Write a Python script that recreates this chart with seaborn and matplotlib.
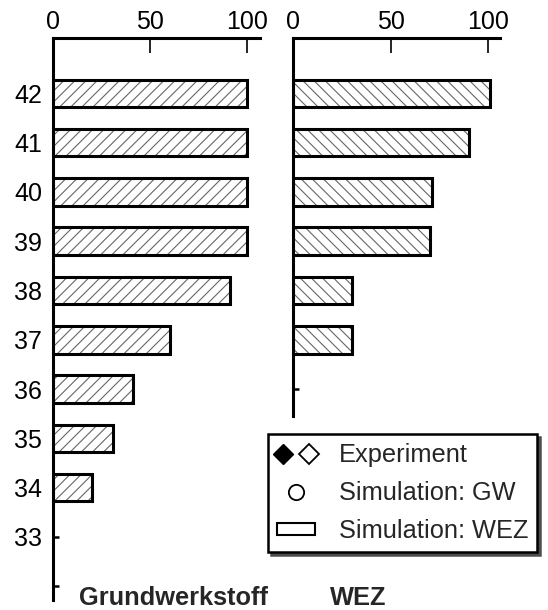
import numpy as np
import pandas as pd
import matplotlib
matplotlib.use('Agg')
import matplotlib.pyplot as plt
import seaborn as sns
from matplotlib.lines import Line2D
from matplotlib.patches import Rectangle
from matplotlib.legend_handler import HandlerTuple

# Daten: Anteil (%) je Temperatur / Kategorie
temp_gw = [34, 35, 36, 37, 38, 39, 40, 41, 42]
werte_gw = [20, 31, 41, 60, 91, 100, 100, 100, 100]
temp_wez = [37, 38, 39, 40, 41, 42]
werte_wez = [30, 30, 70, 71, 90, 101]
ytick_gw = [32, 33, 34, 35, 36, 37, 38, 39, 40, 41, 42]
ytick_wez = [36, 37, 38, 39, 40, 41, 42]
xticks = [0, 50, 100]

sns.set_style('white')
plt.rcParams['font.family'] = ['Liberation Sans', 'DejaVu Sans']
plt.rcParams['hatch.linewidth'] = 0.8

fig = plt.figure(figsize=(5.48, 6.10), dpi=100)
ax1 = fig.add_axes([0.0973, 0.0164, 0.3772, 0.9218])
ax2 = fig.add_axes([0.5352, 0.0164, 0.3772, 0.9218])


def zeichne_balken(ax, temps, werte, hatch):
    df = pd.DataFrame({'T': temps, 'Wert': werte})
    # Schraffur (grau) ohne Rand
    sns.barplot(data=df, x='Wert', y='T', orient='h', native_scale=True, width=0.56,
                color='white', edgecolor='0.4', linewidth=0, hatch=hatch,
                errorbar=None, ax=ax)
    # schwarzer Rahmen darüber
    sns.barplot(data=df, x='Wert', y='T', orient='h', native_scale=True, width=0.56,
                fill=False, color='black', edgecolor='black', linewidth=2.2,
                errorbar=None, ax=ax)


zeichne_balken(ax1, temp_gw, werte_gw, '///')
zeichne_balken(ax2, temp_wez, werte_wez, '\\\\\\')

for ax, xmax in [(ax1, 106.5), (ax2, 106)]:
    ax.set_xlim(0, xmax)
    ax.set_ylim(31.72, 43.13)
    ax.set_xlabel('')
    ax.set_ylabel('')
    ax.xaxis.tick_top()
    ax.set_xticks(xticks)
    ax.set_xticklabels([str(x) for x in xticks])
    ax.tick_params(axis='x', direction='in', length=11, width=1.2, pad=3,
                   labelsize=18, colors='black')
    ax.tick_params(axis='y', direction='in', length=4.5, width=1.8, pad=8,
                   labelsize=18, colors='black', left=True)
    for s in ['right', 'bottom']:
        ax.spines[s].set_visible(False)
    for s in ['left', 'top']:
        ax.spines[s].set_linewidth(2.2)
        ax.spines[s].set_color('black')

ax1.set_yticks(ytick_gw)
ax1.set_yticklabels([''] + [str(t) for t in ytick_gw[1:]])
ax2.set_yticks(ytick_wez)
ax2.set_yticklabels(['' for t in ytick_wez])
ax2.spines['left'].set_bounds(35.46, 43.13)

fig.text(174 / 548, 1 - 598 / 610, 'Grundwerkstoff', ha='center', va='center',
         fontsize=18.3, fontweight='bold')
fig.text(358 / 548, 1 - 598 / 610, 'WEZ', ha='center', va='center',
         fontsize=18.3, fontweight='bold')

# Legende
exp_voll = Line2D([], [], marker='D', color='black', linestyle='none', markersize=10)
exp_leer = Line2D([], [], marker='D', markerfacecolor='white', markeredgecolor='black',
                  markeredgewidth=1.3, linestyle='none', markersize=10)
sim_gw = Line2D([], [], marker='o', markerfacecolor='white', markeredgecolor='black',
                markeredgewidth=1.3, linestyle='none', markersize=11)
sim_wez = Rectangle((0, 0), 1, 1, facecolor='white', edgecolor='black', linewidth=1.5)

leg = fig.legend([(exp_voll, exp_leer), sim_gw, sim_wez],
                 ['Experiment', 'Simulation: GW', 'Simulation: WEZ'],
                 handler_map={tuple: HandlerTuple(ndivide=None, pad=0.5)},
                 loc='upper left', bbox_to_anchor=(268 / 548, 1 - 434 / 610),
                 borderaxespad=0, fontsize=18.3, frameon=True, fancybox=False,
                 shadow={'color': '0.3', 'alpha': 1}, handlelength=1.5,
                 handleheight=0.35, handletextpad=0.95, labelspacing=0.55,
                 borderpad=0.35)
leg.get_frame().set_edgecolor('black')
leg.get_frame().set_linewidth(1.8)

fig.savefig('out.png', dpi=100)
